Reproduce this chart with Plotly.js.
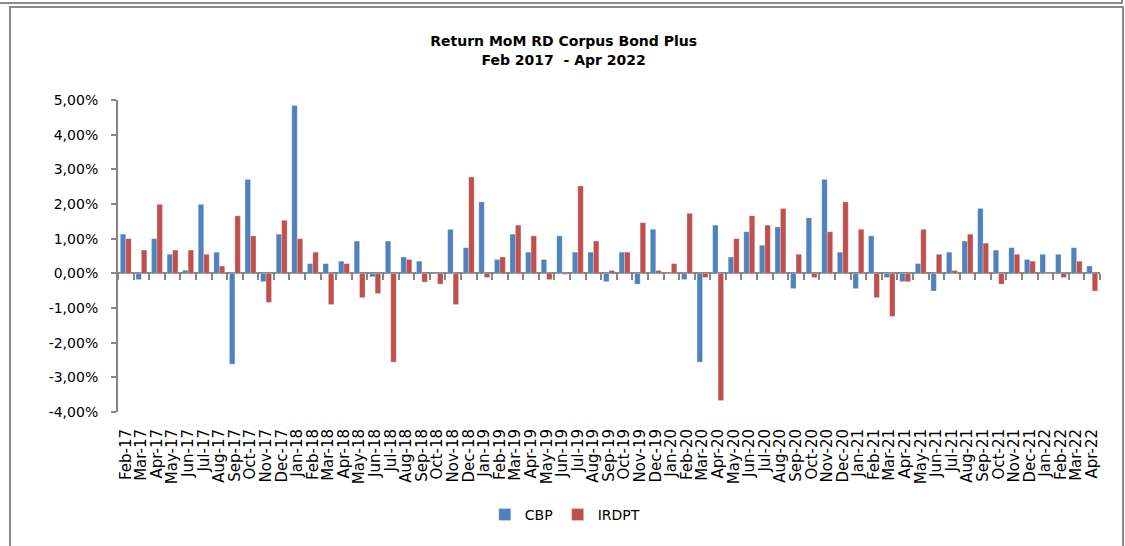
<!DOCTYPE html>
<html>
<head>
<meta charset="utf-8">
<script src="https://cdn.plot.ly/plotly-3.0.1.min.js"></script>
<style>
  html, body { margin: 0; padding: 0; background: #fff; }
  #wrap { position: relative; width: 1125px; height: 546px; overflow: hidden; }
  #chart { position: absolute; left: 0; top: 0; width: 1125px; height: 546px; }
  .frame { position: absolute; pointer-events: none; box-sizing: border-box; }
</style>
</head>
<body>
<div id="wrap">
  <div id="chart"></div>
  <div class="frame" style="left:0;top:0;width:1123px;height:4px;border-bottom:2px solid #8a8a8a;border-right:2px solid #8a8a8a;"></div>
  <div class="frame" style="left:9px;top:6px;width:1115px;height:600px;border:2px solid #8a8a8a;border-bottom:none;"></div>
</div>
<script>
const months = ["Feb-17","Mar-17","Apr-17","May-17","Jun-17","Jul-17","Aug-17","Sep-17","Oct-17","Nov-17","Dec-17",
  "Jan-18","Feb-18","Mar-18","Apr-18","May-18","Jun-18","Jul-18","Aug-18","Sep-18","Oct-18","Nov-18","Dec-18",
  "Jan-19","Feb-19","Mar-19","Apr-19","May-19","Jun-19","Jul-19","Aug-19","Sep-19","Oct-19","Nov-19","Dec-19",
  "Jan-20","Feb-20","Mar-20","Apr-20","May-20","Jun-20","Jul-20","Aug-20","Sep-20","Oct-20","Nov-20","Dec-20",
  "Jan-21","Feb-21","Mar-21","Apr-21","May-21","Jun-21","Jul-21","Aug-21","Sep-21","Oct-21","Nov-21","Dec-21",
  "Jan-22","Feb-22","Mar-22","Apr-22"];

const cbp = [1.13,-0.18,1.00,0.55,0.09,1.99,0.61,-2.62,2.71,-0.24,1.13,
  4.84,0.28,0.28,0.35,0.93,-0.10,0.93,0.47,0.35,-0.02,1.27,0.74,
  2.06,0.40,1.13,0.61,0.40,1.08,0.61,0.61,-0.24,0.61,-0.31,1.27,
  -0.02,-0.18,-2.56,1.39,0.47,1.20,0.81,1.34,-0.44,1.60,2.71,0.61,
  -0.44,1.08,-0.12,-0.24,0.28,-0.51,0.61,0.93,1.87,0.67,0.74,0.40,
  0.55,0.55,0.74,0.21];

const irdpt = [1.00,0.67,1.99,0.67,0.67,0.55,0.21,1.66,1.08,-0.84,1.53,
  1.00,0.61,-0.90,0.28,-0.70,-0.58,-2.56,0.40,-0.25,-0.31,-0.90,2.78,
  -0.12,0.47,1.39,1.08,-0.18,-0.03,2.52,0.93,0.08,0.61,1.46,0.08,
  0.28,1.73,-0.12,-3.67,1.00,1.66,1.39,1.87,0.55,-0.12,1.20,2.06,
  1.27,-0.70,-1.24,-0.24,1.27,0.55,0.08,1.13,0.87,-0.31,0.55,0.35,
  -0.02,-0.12,0.35,-0.51];

const yMin = -4, yMax = 5;
const yTicks = [-4,-3,-2,-1,0,1,2,3,4,5];
const yTickText = yTicks.map(v => v.toFixed(2).replace(".", ",") + "%");
const boundaryTicks = [];
for (let i = 0; i <= months.length; i++) boundaryTicks.push(i - 0.5);
const zeroFrac = (0 - yMin) / (yMax - yMin);

const font = "DejaVu Sans, Verdana, sans-serif";
const axisGray = "#868686";

const traces = [
  { type: "bar", name: "CBP", x: months, y: cbp,
    marker: { color: "#4F81BD", line: { color: "rgba(255,255,255,0.5)", width: 0.5 } } },
  { type: "bar", name: "IRDPT", x: months, y: irdpt,
    marker: { color: "#C0504D", line: { color: "rgba(255,255,255,0.5)", width: 0.5 } } },
  // invisible helper so the zero-line tick axis (x2, sitting on the zero line) is drawn
  { type: "scatter", mode: "none", x: [boundaryTicks[0], boundaryTicks[boundaryTicks.length - 1]],
    y: [0, 0], xaxis: "x2", yaxis: "y2", showlegend: false, hoverinfo: "skip" }
];

const layout = {
  width: 1125, height: 546,
  margin: { l: 118, r: 25, t: 100, b: 134 },
  paper_bgcolor: "#ffffff", plot_bgcolor: "rgba(0,0,0,0)",
  font: { family: font, color: "#000000", size: 14 },
  title: {
    text: "<b>Return MoM RD Corpus Bond Plus<br>Feb 2017  - Apr 2022</b>",
    font: { family: font, size: 14, color: "#000000" },
    x: 0.501, xanchor: "center", y: 0.915, yanchor: "middle"
  },
  barmode: "group", bargap: 0.3, bargroupgap: 0,
  showlegend: true,
  legend: { orientation: "h", x: 0.455, xanchor: "center",
            y: -0.33, yanchor: "middle", font: { family: font, size: 14 } },
  xaxis: {
    type: "category", range: [-0.5, months.length - 0.5],
    tickmode: "array", tickvals: months, ticktext: months,
    showline: false, showgrid: false, zeroline: false, ticks: "",
    tickangle: -90, tickfont: { family: font, size: 15, color: "#000" },
    ticklabelstandoff: 13
  },
  xaxis2: {
    anchor: "y2", range: [-0.5, months.length - 0.5], tickmode: "array", tickvals: boundaryTicks,
    showticklabels: false, ticks: "outside", ticklen: 6, tickwidth: 2, tickcolor: axisGray,
    showline: false, showgrid: false, zeroline: false
  },
  yaxis2: {
    anchor: "x2", domain: [zeroFrac, 1], range: [0, 1], visible: false
  },
  yaxis: {
    range: [yMin, yMax], tickmode: "array", tickvals: yTicks, ticktext: yTickText,
    showline: true, linecolor: axisGray, linewidth: 2,
    ticks: "outside", ticklen: 5, tickwidth: 2, tickcolor: axisGray,
    showgrid: false, zeroline: true, zerolinecolor: axisGray, zerolinewidth: 2,
    tickfont: { family: font, size: 14, color: "#000" }, ticklabelstandoff: 10
  }
};

Plotly.newPlot("chart", traces, layout, { displayModeBar: false, staticPlot: true });
</script>
</body>
</html>
